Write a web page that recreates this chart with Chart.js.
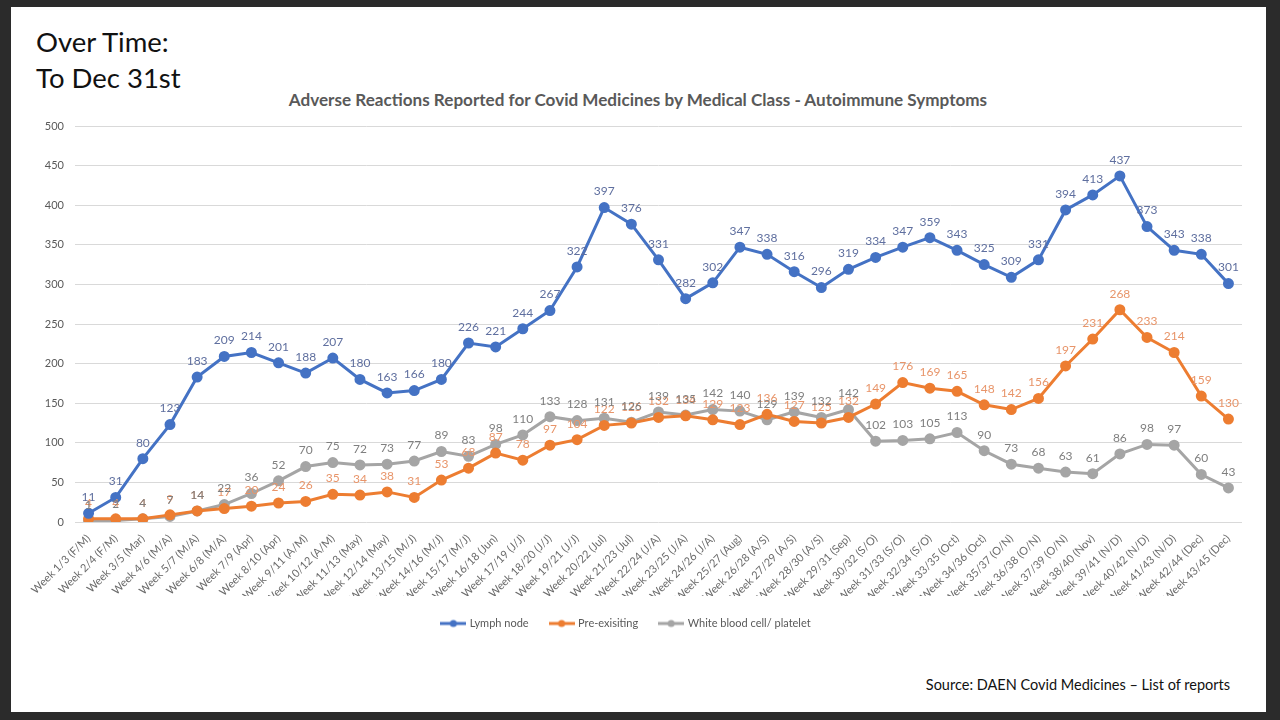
<!DOCTYPE html>
<html>
<head>
<meta charset="utf-8">
<script src="https://cdn.jsdelivr.net/npm/chart.js@4.4.1/dist/chart.umd.min.js"></script>
<style>
  html, body { margin: 0; padding: 0; background: #2b2b2b; width: 1280px; height: 720px; overflow: hidden; }
  #slide { position: absolute; left: 11px; top: 7px; width: 1255px; height: 705px; background: #ffffff; }
  #heading { position: absolute; left: 36px; top: 24px; font-family: Lato, 'Open Sans', sans-serif; font-size: 27.5px; line-height: 36px; color: #111; }
  #title { position: absolute; left: 238px; width: 800px; top: 89px; text-align: center; font-family: Lato, 'Open Sans', sans-serif; font-size: 17.1px; font-weight: bold; color: #595959; white-space: nowrap; }
  #source { position: absolute; right: 50px; top: 676px; font-family: Lato, 'Open Sans', sans-serif; font-size: 14.5px; color: #111; }
  #wrap { position: absolute; left: 0; top: 0; width: 1280px; height: 720px; }
</style>
</head>
<body>
<div id="slide"></div>
<div id="heading">Over Time:<br>To Dec 31st</div>
<div id="title">Adverse Reactions Reported for Covid Medicines by Medical Class - Autoimmune Symptoms</div>
<div id="source">Source: DAEN Covid Medicines – List of reports</div>
<div id="wrap"><canvas id="c" width="1280" height="720"></canvas></div>
<script>
const categories = [
  "Week 1/3 (F/M)", "Week 2/4 (F/M)", "Week 3/5 (Mar)", "Week 4/6 (M/A)", "Week 5/7 (M/A)",
  "Week 6/8 (M/A)", "Week 7/9 (Apr)", "Week 8/10 (Apr)", "Week 9/11 (A/M)", "Week 10/12 (A/M)",
  "Week 11/13 (May)", "Week 12/14 (May)", "Week 13/15 (M/J)", "Week 14/16 (M/J)", "Week 15/17 (M/J)",
  "Week 16/18 (Jun)", "Week 17/19 (J/J)", "Week 18/20 (J/J)", "Week 19/21 (J/J)", "Week 20/22 (Jul)",
  "Week 21/23 (Jul)", "Week 22/24 (J/A)", "Week 23/25 (J/A)", "Week 24/26 (J/A)", "Week 25/27 (Aug)",
  "Week 26/28 (A/S)", "Week 27/29 (A/S)", "Week 28/30 (A/S)", "Week 29/31 (Sep)", "Week 30/32 (S/O)",
  "Week 31/33 (S/O)", "Week 32/34 (S/O)", "Week 33/35 (Oct)", "Week 34/36 (Oct)", "Week 35/37 (O/N)",
  "Week 36/38 (O/N)", "Week 37/39 (O/N)", "Week 38/40 (Nov)", "Week 39/41 (N/D)", "Week 40/42 (N/D)",
  "Week 41/43 (N/D)", "Week 42/44 (Dec)", "Week 43/45 (Dec)"
];
const lymphNode = [11,31,80,123,183,209,214,201,188,207,180,163,166,180,226,221,244,267,322,397,376,331,282,302,347,338,316,296,319,334,347,359,343,325,309,331,394,413,437,373,343,338,301];
const preExisting = [4,4,4,9,14,17,20,24,26,35,34,38,31,53,68,87,78,97,104,122,125,132,134,129,123,136,127,125,132,149,176,169,165,148,142,156,197,231,268,233,214,159,130];
const whiteBloodCell = [1,2,4,7,14,22,36,52,70,75,72,73,77,89,83,98,110,133,128,131,126,139,135,142,140,129,139,132,142,102,103,105,113,90,73,68,63,61,86,98,97,60,43];
const seriesNames = ["Lymph node", "Pre-exisiting", "White blood cell/ platelet"];
const yTicks = [0, 50, 100, 150, 200, 250, 300, 350, 400, 450, 500];

const FONT = "Lato, 'Open Sans', sans-serif";
const colors = ["#4472C4", "#ED7D31", "#A5A5A5"];
const labelColors = ["#5f6f9f", "#e8956a", "#7f7f7f"];

function legendIcon(color) {
  const cv = document.createElement('canvas');
  cv.width = 26; cv.height = 10;
  const g = cv.getContext('2d');
  g.strokeStyle = color; g.lineWidth = 3;
  g.beginPath(); g.moveTo(0, 5); g.lineTo(26, 5); g.stroke();
  g.fillStyle = color;
  g.beginPath(); g.arc(13, 5, 3.5, 0, Math.PI * 2); g.fill();
  return cv;
}

const dataLabels = {
  id: 'dataLabels',
  afterDatasetsDraw(chart) {
    const ctx = chart.ctx;
    ctx.save();
    ctx.font = "12px " + FONT;
    ctx.textAlign = 'center';
    ctx.textBaseline = 'middle';
    chart.data.datasets.forEach((ds, i) => {
      const meta = chart.getDatasetMeta(i);
      ctx.fillStyle = labelColors[i];
      meta.data.forEach((pt, j) => {
        ctx.fillText(String(ds.data[j]), pt.x, pt.y - 16);
      });
    });
    ctx.restore();
  }
};

const seriesData = [lymphNode, preExisting, whiteBloodCell];
const datasets = seriesData.map((d, i) => ({
  label: seriesNames[i],
  data: d,
  borderColor: colors[i],
  backgroundColor: colors[i],
  borderWidth: 3,
  pointRadius: 4,
  pointHoverRadius: 4,
  pointBackgroundColor: colors[i],
  pointBorderColor: colors[i],
  pointStyle: 'circle',
  tension: 0,
  order: i + 1
}));

new Chart(document.getElementById('c'), {
  type: 'line',
  data: { labels: categories, datasets },
  plugins: [dataLabels],
  options: {
    responsive: false,
    animation: false,
    events: [],
    layout: { padding: { left: 11, right: 38, top: 126, bottom: 81 } },
    plugins: {
      title: { display: false },
      legend: {
        position: 'bottom',
        labels: {
          color: "#595959",
          font: { family: FONT, size: 11 },
          usePointStyle: true,
          pointStyleWidth: 22,
          boxHeight: 10,
          padding: 22,
          generateLabels(chart) {
            return chart.data.datasets.map((ds, i) => ({
              text: ds.label,
              fillStyle: colors[i],
              strokeStyle: colors[i],
              lineWidth: 0,
              pointStyle: legendIcon(colors[i]),
              datasetIndex: i,
              hidden: false,
              fontColor: "#595959"
            }));
          }
        }
      },
      tooltip: { enabled: false }
    },
    scales: {
      x: {
        offset: true,
        grid: { display: false },
        border: { display: false },
        ticks: {
          color: "#6b6b6b",
          font: { family: FONT, size: 11 },
          maxRotation: 45,
          minRotation: 45,
          autoSkip: false,
          padding: 2
        },
        afterFit(scale) { scale.height = 74; }
      },
      y: {
        min: 0,
        max: 500,
        afterBuildTicks(scale) { scale.ticks = yTicks.map(v => ({ value: v })); },
        grid: { color: "#d9d9d9", lineWidth: 1, drawTicks: false },
        border: { display: false },
        ticks: {
          color: "#595959",
          font: { family: FONT, size: 11 },
          padding: 11
        },
        afterFit(scale) { scale.width = 64; }
      }
    }
  }
});
</script>
</body>
</html>
